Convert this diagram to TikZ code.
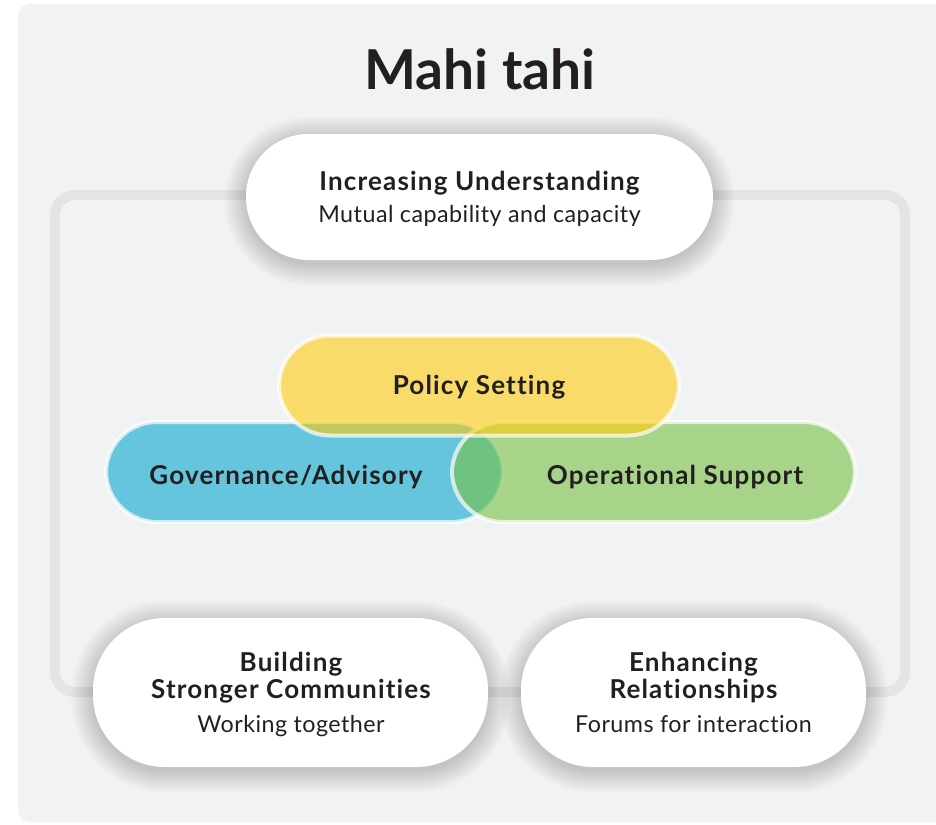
\documentclass[tikz,border=0pt]{standalone}
\usepackage{fontspec}
\setmainfont{Lato}[Ligatures=NoCommon]

\definecolor{panel}{HTML}{F1F2F4}
\definecolor{framegray}{HTML}{E3E4E6}
\definecolor{ink}{HTML}{231F20}
\definecolor{policyyellow}{HTML}{FECD0B}
\definecolor{govblue}{HTML}{09A7CF}
\definecolor{opgreen}{HTML}{77C043}

% soft drop shadow: stacked, growing rounded rectangles of faint black
% #1,#2 centre; #3 width; #4 height; #5 corner radius
\newcommand\pillshadow[5]{%
  \foreach \k in {0,...,22}{%
    \fill[black, opacity=0.0075, rounded corners={(#5+\k)*1pt}]
      ({#1-#3/2-\k}, {#2-#4/2-\k+4}) rectangle ({#1+#3/2+\k}, {#2+#4/2+\k+4});
  }}

\begin{document}
\begin{tikzpicture}[x=1pt, y=-1pt,
  whitepill/.style={fill=white, rounded corners=#1, inner sep=0pt},
  colourpill/.style={fill=#1, fill opacity=0.6, draw=white, draw opacity=0.7,
    line width=4pt, rounded corners=51, inner sep=0pt, minimum height=100pt},
  headline/.style={anchor=base, text=ink,
    font=\bfseries\fontsize{26}{30}\selectfont\addfontfeatures{LetterSpace=4.5}},
  subline/.style={anchor=base, text=ink,
    font=\fontsize{23.3}{28}\selectfont\addfontfeatures{LetterSpace=2}},
]
\useasboundingbox (0,0) rectangle (936,824);
\fill[white] (0,0) rectangle (936,824);

% light panel behind everything
\fill[panel, rounded corners=12pt] (18,4) rectangle (948,822);

% grey frame that links the outer pills
\draw[framegray, line width=10pt, rounded corners=20pt] (55,195) rectangle (905,692);

\node[anchor=base, text=ink, font=\bfseries\fontsize{55}{62}\selectfont] (title) at (480,90) {Mahi tahi};

% top pill
\pillshadow{479.5}{197}{467}{126}{62.5}
\node[whitepill=62.5pt, minimum width=467pt, minimum height=126pt] (understanding) at (479.5,197) {};
\node[headline] (understandinghead) at (479.5,190) {Increasing Understanding};
\node[subline] (understandingsub) at (479.5,222) {Mutual capability and capacity};

% overlapping coloured pills
\node[colourpill=govblue, minimum width=397pt] (governance) at (304.5,472) {};
\node[colourpill=opgreen, minimum width=403pt] (operational) at (653.5,472) {};
\node[colourpill=policyyellow, minimum width=400pt] (policy) at (479,385.5) {};
\node[headline] (policytext) at (479,394) {Policy Setting};
\node[headline] (governancetext) at (286,484) {Governance/Advisory};
\node[headline] (operationaltext) at (675,484) {Operational Support};

% bottom pills
\pillshadow{290.5}{692.5}{395}{149}{72}
\node[whitepill=72pt, minimum width=395pt, minimum height=149pt] (communities) at (290.5,692.5) {};
\node[headline] (communitieshead1) at (291,671) {Building};
\node[headline] (communitieshead2) at (291,698) {Stronger Communities};
\node[subline] (communitiessub) at (291,732) {Working together};

\pillshadow{693.5}{692.5}{345}{149}{72}
\node[whitepill=72pt, minimum width=345pt, minimum height=149pt] (relationships) at (693.5,692.5) {};
\node[headline] (relationshipshead1) at (693.5,671) {Enhancing};
\node[headline] (relationshipshead2) at (693.5,698) {Relationships};
\node[subline] (relationshipssub) at (693.5,732) {Forums for interaction};
\end{tikzpicture}
\end{document}
